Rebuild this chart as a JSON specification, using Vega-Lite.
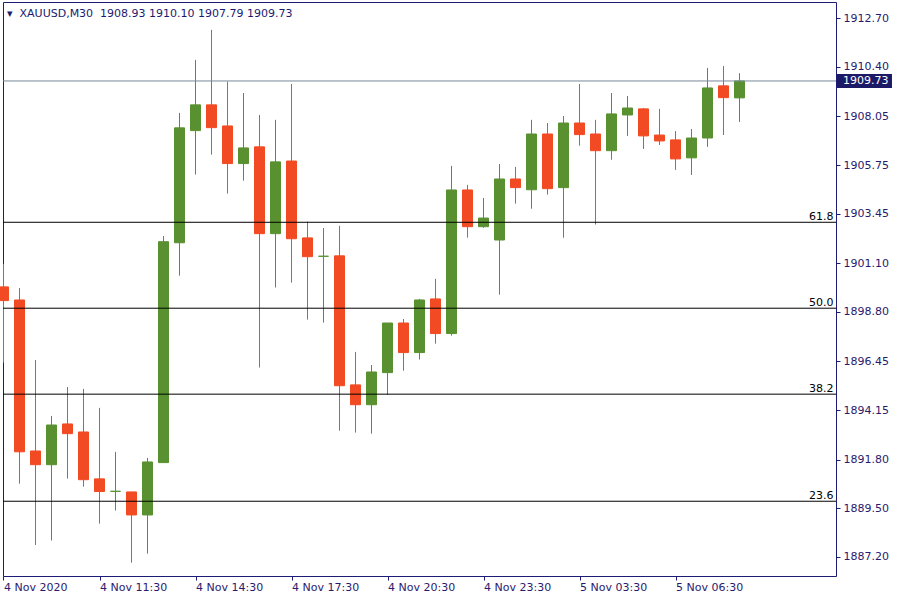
{
  "$schema": "https://vega.github.io/schema/vega-lite/v6.json",
  "width": 833,
  "height": 574,
  "autosize": {"type": "none"},
  "padding": {"left": 3, "top": 2, "right": 64, "bottom": 24},
  "background": "white",
  "config": {"view": {"stroke": "#1c1c74", "strokeWidth": 1}, "font": "DejaVu Sans", "scale": {"continuousPadding": 0}},
  "title": {
    "text": "▾\u00a0 XAUUSD,M30\u00a0 1908.93 1910.10 1907.79 1909.73",
    "anchor": "start",
    "frame": "group",
    "offset": -14,
    "dx": 4,
    "dy": 12,
    "baseline": "alphabetic",
    "fontSize": 11,
    "fontWeight": "normal",
    "color": "#1c1a70",
    "font": "DejaVu Sans"
  },
  "datasets": {
    "bars": [
      {"i": 0, "t": "4 Nov 08:30", "o": 1899.98, "h": 1901.07, "l": 1896.39, "c": 1899.33},
      {"i": 1, "t": "4 Nov 09:00", "o": 1899.36, "h": 1899.93, "l": 1890.66, "c": 1892.17},
      {"i": 2, "t": "4 Nov 09:30", "o": 1892.21, "h": 1896.52, "l": 1887.76, "c": 1891.56},
      {"i": 3, "t": "4 Nov 10:00", "o": 1891.56, "h": 1893.87, "l": 1887.97, "c": 1893.44},
      {"i": 4, "t": "4 Nov 10:30", "o": 1893.49, "h": 1895.24, "l": 1890.90, "c": 1893.03},
      {"i": 5, "t": "4 Nov 11:00", "o": 1893.11, "h": 1895.15, "l": 1890.52, "c": 1890.85},
      {"i": 6, "t": "4 Nov 11:30", "o": 1890.89, "h": 1894.25, "l": 1888.77, "c": 1890.29},
      {"i": 7, "t": "4 Nov 12:00", "o": 1890.30, "h": 1892.17, "l": 1889.39, "c": 1890.30},
      {"i": 8, "t": "4 Nov 12:30", "o": 1890.27, "h": 1890.27, "l": 1886.92, "c": 1889.18},
      {"i": 9, "t": "4 Nov 13:00", "o": 1889.18, "h": 1891.88, "l": 1887.35, "c": 1891.69},
      {"i": 10, "t": "4 Nov 13:30", "o": 1891.66, "h": 1902.39, "l": 1891.66, "c": 1902.12},
      {"i": 11, "t": "4 Nov 14:00", "o": 1902.07, "h": 1908.22, "l": 1900.51, "c": 1907.51},
      {"i": 12, "t": "4 Nov 14:30", "o": 1907.38, "h": 1910.73, "l": 1905.30, "c": 1908.60},
      {"i": 13, "t": "4 Nov 15:00", "o": 1908.60, "h": 1912.15, "l": 1906.24, "c": 1907.52},
      {"i": 14, "t": "4 Nov 15:30", "o": 1907.60, "h": 1909.70, "l": 1904.40, "c": 1905.82},
      {"i": 15, "t": "4 Nov 16:00", "o": 1905.82, "h": 1909.16, "l": 1905.01, "c": 1906.56},
      {"i": 16, "t": "4 Nov 16:30", "o": 1906.61, "h": 1908.12, "l": 1896.16, "c": 1902.50},
      {"i": 17, "t": "4 Nov 17:00", "o": 1902.50, "h": 1907.89, "l": 1899.95, "c": 1905.90},
      {"i": 18, "t": "4 Nov 17:30", "o": 1905.94, "h": 1909.59, "l": 1900.18, "c": 1902.26},
      {"i": 19, "t": "4 Nov 18:00", "o": 1902.30, "h": 1903.07, "l": 1898.43, "c": 1901.41},
      {"i": 20, "t": "4 Nov 18:30", "o": 1901.43, "h": 1902.77, "l": 1898.29, "c": 1901.43},
      {"i": 21, "t": "4 Nov 19:00", "o": 1901.45, "h": 1902.87, "l": 1893.17, "c": 1895.30},
      {"i": 22, "t": "4 Nov 19:30", "o": 1895.34, "h": 1896.90, "l": 1893.08, "c": 1894.40},
      {"i": 23, "t": "4 Nov 20:00", "o": 1894.40, "h": 1896.28, "l": 1893.03, "c": 1895.95},
      {"i": 24, "t": "4 Nov 20:30", "o": 1895.92, "h": 1898.27, "l": 1894.86, "c": 1898.27},
      {"i": 25, "t": "4 Nov 21:00", "o": 1898.27, "h": 1898.46, "l": 1896.01, "c": 1896.87},
      {"i": 26, "t": "4 Nov 21:30", "o": 1896.87, "h": 1899.41, "l": 1896.54, "c": 1899.36},
      {"i": 27, "t": "4 Nov 22:00", "o": 1899.41, "h": 1900.36, "l": 1897.29, "c": 1897.77},
      {"i": 28, "t": "4 Nov 22:30", "o": 1897.77, "h": 1905.71, "l": 1897.67, "c": 1904.57},
      {"i": 29, "t": "4 Nov 23:00", "o": 1904.57, "h": 1904.81, "l": 1902.31, "c": 1902.83},
      {"i": 30, "t": "4 Nov 23:30", "o": 1902.83, "h": 1904.19, "l": 1902.78, "c": 1903.24},
      {"i": 31, "t": "5 Nov 01:00", "o": 1902.20, "h": 1905.80, "l": 1899.61, "c": 1905.09},
      {"i": 32, "t": "5 Nov 01:30", "o": 1905.09, "h": 1905.66, "l": 1903.92, "c": 1904.68},
      {"i": 33, "t": "5 Nov 02:00", "o": 1904.58, "h": 1907.89, "l": 1903.68, "c": 1907.22},
      {"i": 34, "t": "5 Nov 02:30", "o": 1907.22, "h": 1907.74, "l": 1904.35, "c": 1904.63},
      {"i": 35, "t": "5 Nov 03:00", "o": 1904.68, "h": 1908.07, "l": 1902.31, "c": 1907.74},
      {"i": 36, "t": "5 Nov 03:30", "o": 1907.74, "h": 1909.59, "l": 1906.67, "c": 1907.19},
      {"i": 37, "t": "5 Nov 04:00", "o": 1907.22, "h": 1907.89, "l": 1902.93, "c": 1906.43},
      {"i": 38, "t": "5 Nov 04:30", "o": 1906.43, "h": 1909.16, "l": 1906.00, "c": 1908.17},
      {"i": 39, "t": "5 Nov 05:00", "o": 1908.12, "h": 1909.02, "l": 1907.13, "c": 1908.45},
      {"i": 40, "t": "5 Nov 05:30", "o": 1908.41, "h": 1908.45, "l": 1906.51, "c": 1907.13},
      {"i": 41, "t": "5 Nov 06:00", "o": 1907.17, "h": 1908.41, "l": 1906.70, "c": 1906.89},
      {"i": 42, "t": "5 Nov 06:30", "o": 1906.94, "h": 1907.36, "l": 1905.52, "c": 1906.04},
      {"i": 43, "t": "5 Nov 07:00", "o": 1906.09, "h": 1907.46, "l": 1905.28, "c": 1907.03},
      {"i": 44, "t": "5 Nov 07:30", "o": 1907.03, "h": 1910.35, "l": 1906.61, "c": 1909.40},
      {"i": 45, "t": "5 Nov 08:00", "o": 1909.50, "h": 1910.44, "l": 1907.17, "c": 1908.94},
      {"i": 46, "t": "5 Nov 08:30", "o": 1908.93, "h": 1910.10, "l": 1907.79, "c": 1909.73}
    ],
    "fib": [
      {"level": "61.8", "price": 1903.04},
      {"level": "50.0", "price": 1898.97},
      {"level": "38.2", "price": 1894.90},
      {"level": "23.6", "price": 1889.83}
    ],
    "last": [
      {"price": 1909.73, "label": "1909.73"}
    ]
  },
  "layer": [
    {
      "data": {"name": "bars"},
      "mark": {"type": "rule", "strokeWidth": 1},
      "encoding": {
        "x": {
          "field": "i",
          "type": "quantitative",
          "scale": {"domain": [-0.03125, 52.03125], "nice": false, "zero": false, "padding": 0},
          "axis": {
            "values": [0, 6, 12, 18, 24, 30, 36, 42],
            "labelExpr": "['4 Nov 2020','4 Nov 11:30','4 Nov 14:30','4 Nov 17:30','4 Nov 20:30','4 Nov 23:30','5 Nov 03:30','5 Nov 06:30'][round(datum.value/6)]",
            "title": null,
            "grid": false,
            "domain": false,
            "tickSize": 4,
            "tickColor": "#1c1c74",
            "labelColor": "#2a1a6e",
            "labelFont": "DejaVu Sans",
            "labelFontSize": 11,
            "labelAlign": "left",
            "labelBaseline": "top",
            "labelPadding": 1,
            "labelFlush": false,
            "labelOverlap": false,
            "labelBound": false
          }
        },
        "y": {
          "field": "l",
          "type": "quantitative",
          "scale": {"domain": [1886.29, 1913.47], "nice": false, "zero": false, "padding": 0},
          "axis": {
            "orient": "right",
            "values": [1887.20, 1889.50, 1891.80, 1894.15, 1896.45, 1898.80, 1901.10, 1903.45, 1905.75, 1908.05, 1910.40, 1912.70],
            "format": ".2f",
            "title": null,
            "grid": false,
            "domain": false,
            "tickSize": 4,
            "tickColor": "#1c1c74",
            "labelColor": "#2a1a6e",
            "labelFont": "DejaVu Sans",
            "labelFontSize": 11,
            "labelAlign": "left",
            "labelBaseline": "middle",
            "labelPadding": 3,
            "labelFlush": false,
            "labelOverlap": false,
            "labelBound": false
          }
        },
        "y2": {"field": "h"},
        "color": {"condition": {"test": "datum.c >= datum.o", "value": "#5a9130"}, "value": "#f24b24"}
      }
    },
    {
      "data": {"name": "bars"},
      "mark": {"type": "bar", "size": 10, "strokeWidth": 1, "orient": "vertical"},
      "encoding": {
        "x": {"field": "i", "type": "quantitative"},
        "y": {"field": "o", "type": "quantitative"},
        "y2": {"field": "c"},
        "color": {"condition": {"test": "datum.c >= datum.o", "value": "#5a9130"}, "value": "#f24b24"},
        "stroke": {"condition": {"test": "datum.c >= datum.o", "value": "#5a9130"}, "value": "#f24b24"}
      }
    },
    {
      "data": {"name": "last"},
      "mark": {"type": "rule", "color": "#778899", "strokeWidth": 1},
      "encoding": {"y": {"field": "price", "type": "quantitative"}}
    },
    {
      "data": {"name": "fib"},
      "mark": {"type": "rule", "color": "#000000", "strokeWidth": 1},
      "encoding": {"y": {"field": "price", "type": "quantitative"}}
    },
    {
      "data": {"name": "fib"},
      "mark": {"type": "text", "align": "right", "baseline": "alphabetic", "dx": -2, "dy": -2, "fontSize": 11, "font": "DejaVu Sans", "color": "#000000"},
      "encoding": {
        "x": {"datum": 52, "type": "quantitative"},
        "y": {"field": "price", "type": "quantitative"},
        "text": {"field": "level"}
      }
    },
    {
      "data": {"name": "last"},
      "mark": {"type": "bar", "orient": "horizontal", "size": 14, "color": "#1c1a66"},
      "encoding": {
        "x": {"datum": 52.094, "type": "quantitative"},
        "x2": {"datum": 55.53},
        "y": {"field": "price", "type": "quantitative"}
      }
    },
    {
      "data": {"name": "last"},
      "mark": {"type": "text", "align": "left", "baseline": "middle", "dx": 6, "fontSize": 11, "font": "DejaVu Sans", "color": "#ffffff"},
      "encoding": {
        "x": {"datum": 52.094, "type": "quantitative"},
        "y": {"field": "price", "type": "quantitative"},
        "text": {"field": "label"}
      }
    }
  ]
}
